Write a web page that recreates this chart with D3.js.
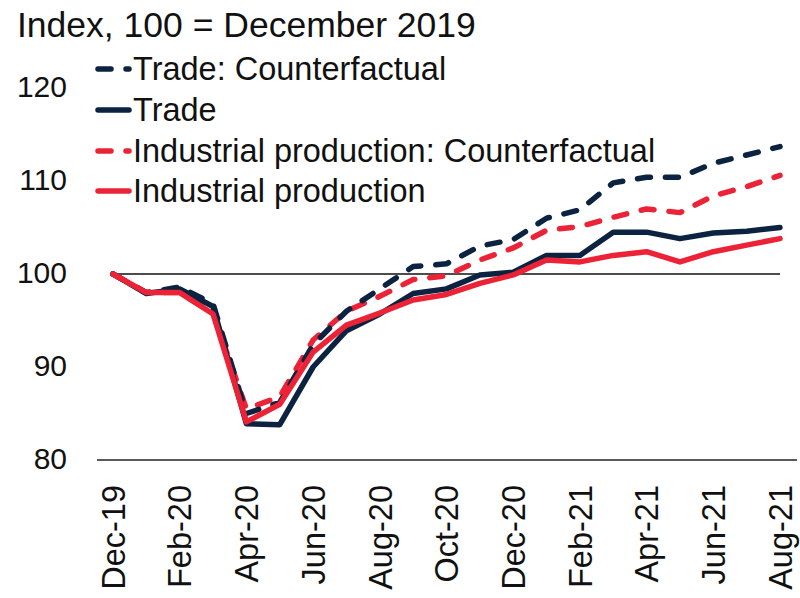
<!DOCTYPE html>
<html>
<head>
<meta charset="utf-8">
<script src="https://cdn.jsdelivr.net/npm/d3@7"></script>
<style>
  html, body { margin: 0; padding: 0; background: #fff; }
  svg { display: block; font-family: "Liberation Sans", Arial, sans-serif; }
</style>
</head>
<body>
<svg id="chart" width="800" height="598"></svg>
<script>
// ---- data ----
const months = ["Dec-19","Jan-20","Feb-20","Mar-20","Apr-20","May-20","Jun-20","Jul-20","Aug-20","Sep-20","Oct-20","Nov-20","Dec-20","Jan-21","Feb-21","Mar-21","Apr-21","May-21","Jun-21","Jul-21","Aug-21"];
const tickLabels = ["Dec-19","Feb-20","Apr-20","Jun-20","Aug-20","Oct-20","Dec-20","Feb-21","Apr-21","Jun-21","Aug-21"];
const yTicks = [80, 90, 100, 110, 120];
const tradeCounterfactual = [100, 98.0, 98.6, 96.8, 85.0, 86.2, 92.4, 96.0, 98.4, 100.8, 101.1, 103.0, 103.7, 106.0, 106.9, 109.8, 110.4, 110.4, 111.9, 112.8, 113.7];
const trade = [100, 97.9, 98.4, 96.5, 83.9, 83.8, 90.0, 93.9, 95.7, 97.9, 98.4, 99.9, 100.2, 102.0, 102.0, 104.5, 104.5, 103.8, 104.4, 104.6, 105.0];
const ipCounterfactual = [100, 98.0, 98.0, 95.8, 85.5, 86.8, 92.9, 96.0, 97.6, 99.4, 99.8, 101.5, 102.8, 104.7, 105.1, 106.1, 107.0, 106.6, 108.4, 109.4, 110.6];
const industrialProduction = [100, 98.0, 98.0, 95.7, 84.1, 86.0, 91.6, 94.5, 95.8, 97.2, 97.8, 99.0, 99.9, 101.5, 101.3, 102.0, 102.4, 101.3, 102.4, 103.1, 103.8];
const seriesNames = ["Trade: Counterfactual", "Trade", "Industrial production: Counterfactual", "Industrial production"];
const title = "Index, 100 = December 2019";

// ---- styles ----
const NAVY = "#0b2341";
const RED = "#ec2337";
const DASH = "13,15";
const series = [
  { name: seriesNames[2], values: ipCounterfactual, color: RED, dash: DASH },
  { name: seriesNames[0], values: tradeCounterfactual, color: NAVY, dash: DASH },
  { name: seriesNames[1], values: trade, color: NAVY, dash: null },
  { name: seriesNames[3], values: industrialProduction, color: RED, dash: null }
];
const legendOrder = [
  { name: seriesNames[0], color: NAVY, dash: DASH },
  { name: seriesNames[1], color: NAVY, dash: null },
  { name: seriesNames[2], color: RED, dash: DASH },
  { name: seriesNames[3], color: RED, dash: null }
];

const svg = d3.select("#chart");
const x = d3.scalePoint().domain(months).range([113, 780]);
const y = d3.scaleLinear().domain([80, 120]).range([460, 88]);

// title
svg.append("text").attr("x", 17).attr("y", 37)
  .attr("font-size", 35.5).attr("fill", "#111").text(title);

// y tick labels
svg.append("g").selectAll("text").data(yTicks).join("text")
  .attr("x", 67).attr("y", d => y(d) - 1.5).attr("dy", "0.35em")
  .attr("text-anchor", "end").attr("font-size", 30).attr("fill", "#111")
  .text(d => d);

// x axis line
svg.append("line").attr("x1", 97).attr("x2", 797)
  .attr("y1", y(80)).attr("y2", y(80)).attr("stroke", "#222").attr("stroke-width", 1.5);

// x tick labels
svg.append("g").selectAll("text").data(tickLabels).join("text")
  .attr("transform", d => `translate(${x(d)},485) rotate(-90)`)
  .attr("dy", "0.36em").attr("text-anchor", "end")
  .attr("font-size", 32.5).attr("fill", "#111").text(d => d);

// 100 reference line
svg.append("line").attr("x1", x(months[0])).attr("x2", x(months[months.length-1]))
  .attr("y1", y(100)).attr("y2", y(100)).attr("stroke", "#111").attr("stroke-width", 1.5);

// lines
const line = d3.line().x((d, i) => x(months[i])).y(d => y(d));
svg.append("g").selectAll("path").data(series).join("path")
  .attr("d", d => line(d.values))
  .attr("fill", "none").attr("stroke", d => d.color).attr("stroke-width", 5.5)
  .attr("stroke-linejoin", "round").attr("stroke-linecap", "round")
  .attr("stroke-dasharray", d => d.dash);

// legend
const lg = svg.append("g").selectAll("g").data(legendOrder).join("g")
  .attr("transform", (d, i) => `translate(0,${[69, 110, 151, 191][i]})`);
lg.append("line").attr("x1", 98).attr("x2", 129).attr("y1", 0).attr("y2", 0)
  .attr("stroke", d => d.color).attr("stroke-width", 5.5).attr("stroke-linecap", "round")
  .attr("stroke-dasharray", d => d.dash);
lg.append("text").attr("x", 133).attr("y", 11)
  .attr("font-size", 32.5).attr("fill", "#111").text(d => d.name);
</script>
</body>
</html>
